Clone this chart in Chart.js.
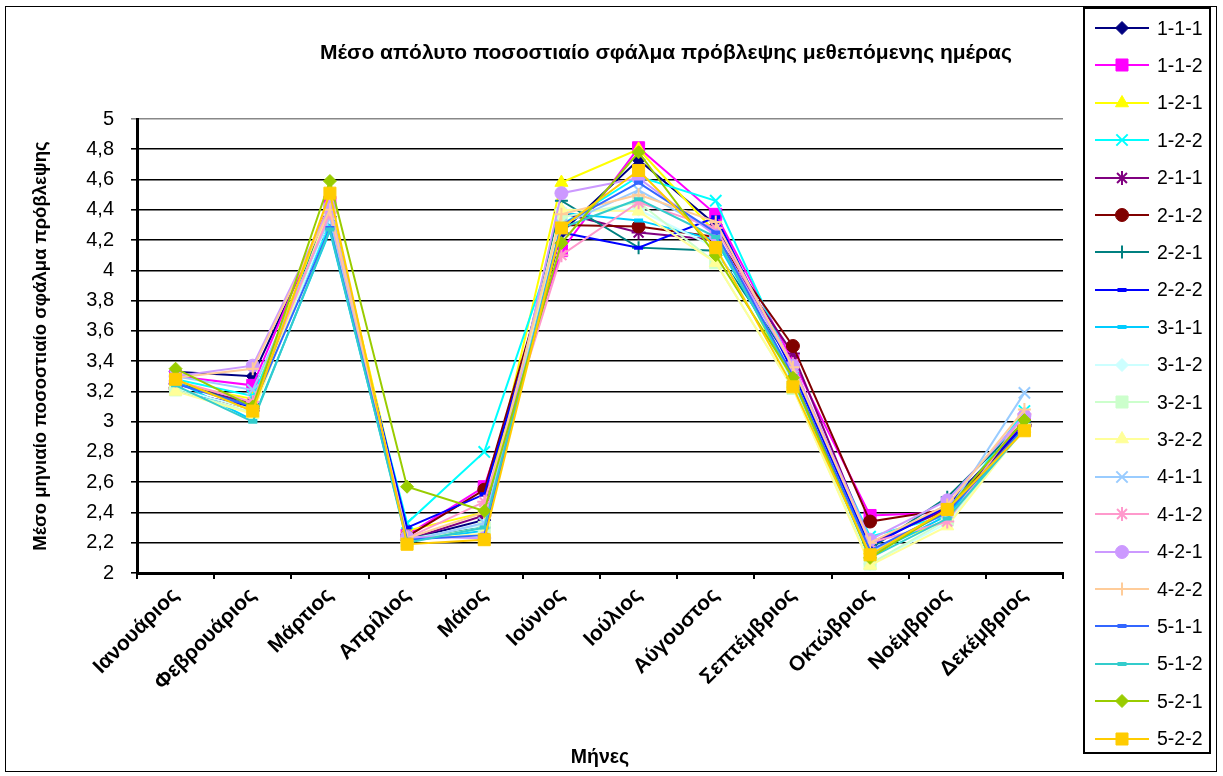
<!DOCTYPE html>
<html>
<head>
<meta charset="utf-8">
<script src="https://cdn.jsdelivr.net/npm/chart.js@4"></script>
<style>
  body { margin: 0; background: #fff; font-family: "Liberation Sans", Arial, sans-serif; }
  #wrap { position: relative; width: 1223px; height: 776px; overflow: hidden; }
  #frame { position: absolute; left: 5px; top: 6px; width: 1212px; height: 766px; border: 1px solid #000; box-sizing: border-box; }
  #chart-box { position: absolute; left: 0; top: 0; width: 1223px; height: 776px; }
  #title { position: absolute; top: 40px; left: 666px; transform: translateX(-50%); white-space: nowrap;
    font-weight: bold; font-size: 21px; color: #000; }
  #legend { position: absolute; left: 1083px; top: 7px; width: 128px; height: 747px; border: 2px solid #000;
    box-sizing: border-box; background: #fff; }
  .item { position: absolute; left: 10px; height: 22px; display: flex; align-items: center; }
  .item canvas { width: 56px; height: 22px; }
  .item span { margin-left: 6px; font-size: 19.5px; color: #000; }
</style>
</head>
<body>
<div id="wrap">
  <div id="frame"></div>
  <div id="chart-box"><canvas id="chart"></canvas></div>
  <div id="title">Μέσο απόλυτο ποσοστιαίο σφάλμα πρόβλεψης μεθεπόμενης ημέρας</div>
  <div id="legend"></div>
</div>
<script>
const months = ["Ιανουάριος", "Φεβρουάριος", "Μάρτιος", "Απρίλιος", "Μάιος", "Ιούνιος",
  "Ιούλιος", "Αύγουστος", "Σεπτέμβριος", "Οκτώβριος", "Νοέμβριος", "Δεκέμβριος"];

const yTicks = [2, 2.2, 2.4, 2.6, 2.8, 3, 3.2, 3.4, 3.6, 3.8, 4, 4.2, 4.4, 4.6, 4.8, 5];

// one array per model
const s111 = [3.33, 3.30, 4.40, 2.22, 2.35, 4.25, 4.73, 4.30, 3.35, 2.18, 2.45, 2.98];
const s112 = [3.30, 3.24, 4.45, 2.25, 2.57, 4.13, 4.81, 4.37, 3.40, 2.38, 2.40, 3.00];
const s121 = [3.25, 3.15, 4.45, 2.28, 2.40, 4.58, 4.80, 4.25, 3.25, 2.15, 2.35, 2.95];
const s122 = [3.28, 3.17, 4.30, 2.33, 2.80, 4.30, 4.62, 4.46, 3.35, 2.24, 2.38, 3.07];
const s211 = [3.25, 3.12, 4.35, 2.22, 2.38, 4.38, 4.25, 4.20, 3.45, 2.20, 2.42, 2.97];
const s212 = [3.22, 3.08, 4.40, 2.24, 2.55, 4.30, 4.29, 4.22, 3.50, 2.34, 2.42, 2.98];
const s221 = [3.26, 3.10, 4.42, 2.23, 2.30, 4.46, 4.15, 4.13, 3.38, 2.16, 2.50, 3.00];
const s222 = [3.20, 3.10, 4.35, 2.30, 2.52, 4.25, 4.15, 4.35, 3.33, 2.18, 2.44, 2.98];
const s311 = [3.27, 3.01, 4.26, 2.21, 2.28, 4.38, 4.33, 4.20, 3.30, 2.12, 2.38, 2.96];
const s312 = [3.22, 3.08, 4.35, 2.22, 2.32, 4.40, 4.40, 4.15, 3.25, 2.06, 2.33, 2.95];
const s321 = [3.21, 3.06, 4.40, 2.21, 2.30, 4.35, 4.45, 4.05, 3.22, 2.06, 2.35, 2.95];
const s322 = [3.20, 3.05, 4.42, 2.22, 2.26, 4.40, 4.39, 4.05, 3.22, 2.05, 2.31, 2.96];
const s411 = [3.30, 3.21, 4.35, 2.21, 2.33, 4.30, 4.53, 4.25, 3.30, 2.14, 2.40, 3.19];
const s412 = [3.27, 3.13, 4.38, 2.23, 2.47, 4.10, 4.45, 4.28, 3.38, 2.20, 2.34, 3.05];
const s421 = [3.30, 3.37, 4.42, 2.24, 2.23, 4.51, 4.61, 4.23, 3.37, 2.22, 2.48, 3.04];
const s422 = [3.29, 3.35, 4.40, 2.23, 2.40, 4.37, 4.50, 4.32, 3.36, 2.20, 2.45, 3.08];
const s511 = [3.25, 3.10, 4.28, 2.22, 2.25, 4.30, 4.58, 4.25, 3.30, 2.15, 2.40, 2.96];
const s512 = [3.24, 3.00, 4.27, 2.20, 2.30, 4.28, 4.47, 4.22, 3.28, 2.10, 2.36, 2.95];
const s521 = [3.35, 3.10, 4.59, 2.57, 2.41, 4.18, 4.78, 4.10, 3.29, 2.10, 2.42, 3.01];
const s522 = [3.28, 3.07, 4.51, 2.19, 2.22, 4.28, 4.66, 4.15, 3.23, 2.12, 2.42, 2.94];

const names = ["1-1-1", "1-1-2", "1-2-1", "1-2-2", "2-1-1", "2-1-2", "2-2-1", "2-2-2", "3-1-1", "3-1-2",
  "3-2-1", "3-2-2", "4-1-1", "4-1-2", "4-2-1", "4-2-2", "5-1-1", "5-1-2", "5-2-1", "5-2-2"];
const values = [s111, s112, s121, s122, s211, s212, s221, s222, s311, s312,
  s321, s322, s411, s412, s421, s422, s511, s512, s521, s522];

const colors = ["#000080", "#FF00FF", "#FFFF00", "#00FFFF", "#800080", "#800000", "#008080", "#0000FF", "#00CCFF", "#CCFFFF",
  "#CCFFCC", "#FFFF99", "#99CCFF", "#FF99CC", "#CC99FF", "#FFCC99", "#3366FF", "#33CCCC", "#99CC00", "#FFCC00"];
const markers = ["rectRot", "rect", "triangle", "crossRot", "star", "circle", "cross", "line", "line", "rectRot",
  "rect", "triangle", "crossRot", "star", "circle", "cross", "line", "line", "rectRot", "rect"];

const markerSize = (m) => ({ rectRot: 6.5, rect: 8.5, triangle: 7.5, circle: 6.5, line: 4.5, crossRot: 8, cross: 6.5, star: 7 }[m]);
const markerBorder = (m) => (m === "line" ? 4 : m === "crossRot" || m === "cross" || m === "star" ? 2 : 1);

const datasets = names.map((name, i) => ({
  label: name,
  data: values[i],
  borderColor: colors[i],
  backgroundColor: colors[i],
  borderWidth: 2,
  pointStyle: markers[i],
  pointRadius: markerSize(markers[i]),
  pointBorderWidth: markerBorder(markers[i]),
  pointBackgroundColor: colors[i],
  pointBorderColor: colors[i],
  tension: 0,
  order: names.length - i,
}));

Chart.defaults.font.family = '"Liberation Sans", Arial, sans-serif';
Chart.defaults.color = "#000";

new Chart(document.getElementById("chart"), {
  type: "line",
  data: { labels: months, datasets: datasets },
  options: {
    responsive: true,
    maintainAspectRatio: false,
    animation: false,
    layout: { padding: { top: 119, right: 160, left: 0, bottom: 0 } },
    plugins: { legend: { display: false }, tooltip: { enabled: false } },
    scales: {
      x: {
        offset: true,
        grid: { offset: true, drawOnChartArea: false, color: "#000", tickLength: 6, lineWidth: 2 },
        border: { color: "#000", width: 3 },
        ticks: { maxRotation: 45, minRotation: 45, padding: 4, font: { size: 21, weight: "bold" } },
        title: { display: true, text: "Μήνες", font: { size: 19.5, weight: "bold" }, padding: { top: 0, bottom: 7 } },
        afterFit: (scale) => { scale.height = 203; },
      },
      y: {
        min: yTicks[0],
        max: yTicks[yTicks.length - 1],
        afterBuildTicks: (scale) => { scale.ticks = yTicks.map((v) => ({ value: v })); },
        grid: {
          color: (ctx) => (ctx.tick && ctx.tick.value === 5 ? "#888" : "#000"),
          lineWidth: 1.6,
          tickLength: 6,
        },
        border: { color: "#000", width: 3 },
        ticks: {
          padding: 17,
          font: { size: 20 },
          callback: (v) => String(Math.round(v * 10) / 10).replace(".", ","),
        },
        title: {
          display: true,
          text: "Μέσο μηνιαίο ποσοστιαίο σφάλμα πρόβλεψης",
          font: { size: 18.5, weight: "bold" },
          padding: { top: 30, bottom: 0 },
        },
        afterFit: (scale) => { scale.width = 137; },
      },
    },
  },
});

// legend on the right, built from the same datasets
const legend = document.getElementById("legend");
names.forEach((name, i) => {
  const item = document.createElement("div");
  item.className = "item";
  item.style.top = (8 + i * 37.4) + "px";
  const c = document.createElement("canvas");
  c.width = 56;
  c.height = 22;
  const ctx = c.getContext("2d");
  ctx.strokeStyle = colors[i];
  ctx.lineWidth = 2;
  ctx.beginPath();
  ctx.moveTo(0, 11);
  ctx.lineTo(54, 11);
  ctx.stroke();
  if (Chart.helpers && Chart.helpers.drawPoint) {
    ctx.fillStyle = colors[i];
    ctx.lineWidth = markerBorder(markers[i]);
    Chart.helpers.drawPoint(ctx, { pointStyle: markers[i], radius: markerSize(markers[i]), borderWidth: markerBorder(markers[i]), rotation: 0 }, 27, 11);
  }
  const label = document.createElement("span");
  label.textContent = name;
  item.appendChild(c);
  item.appendChild(label);
  legend.appendChild(item);
});
</script>
</body>
</html>
